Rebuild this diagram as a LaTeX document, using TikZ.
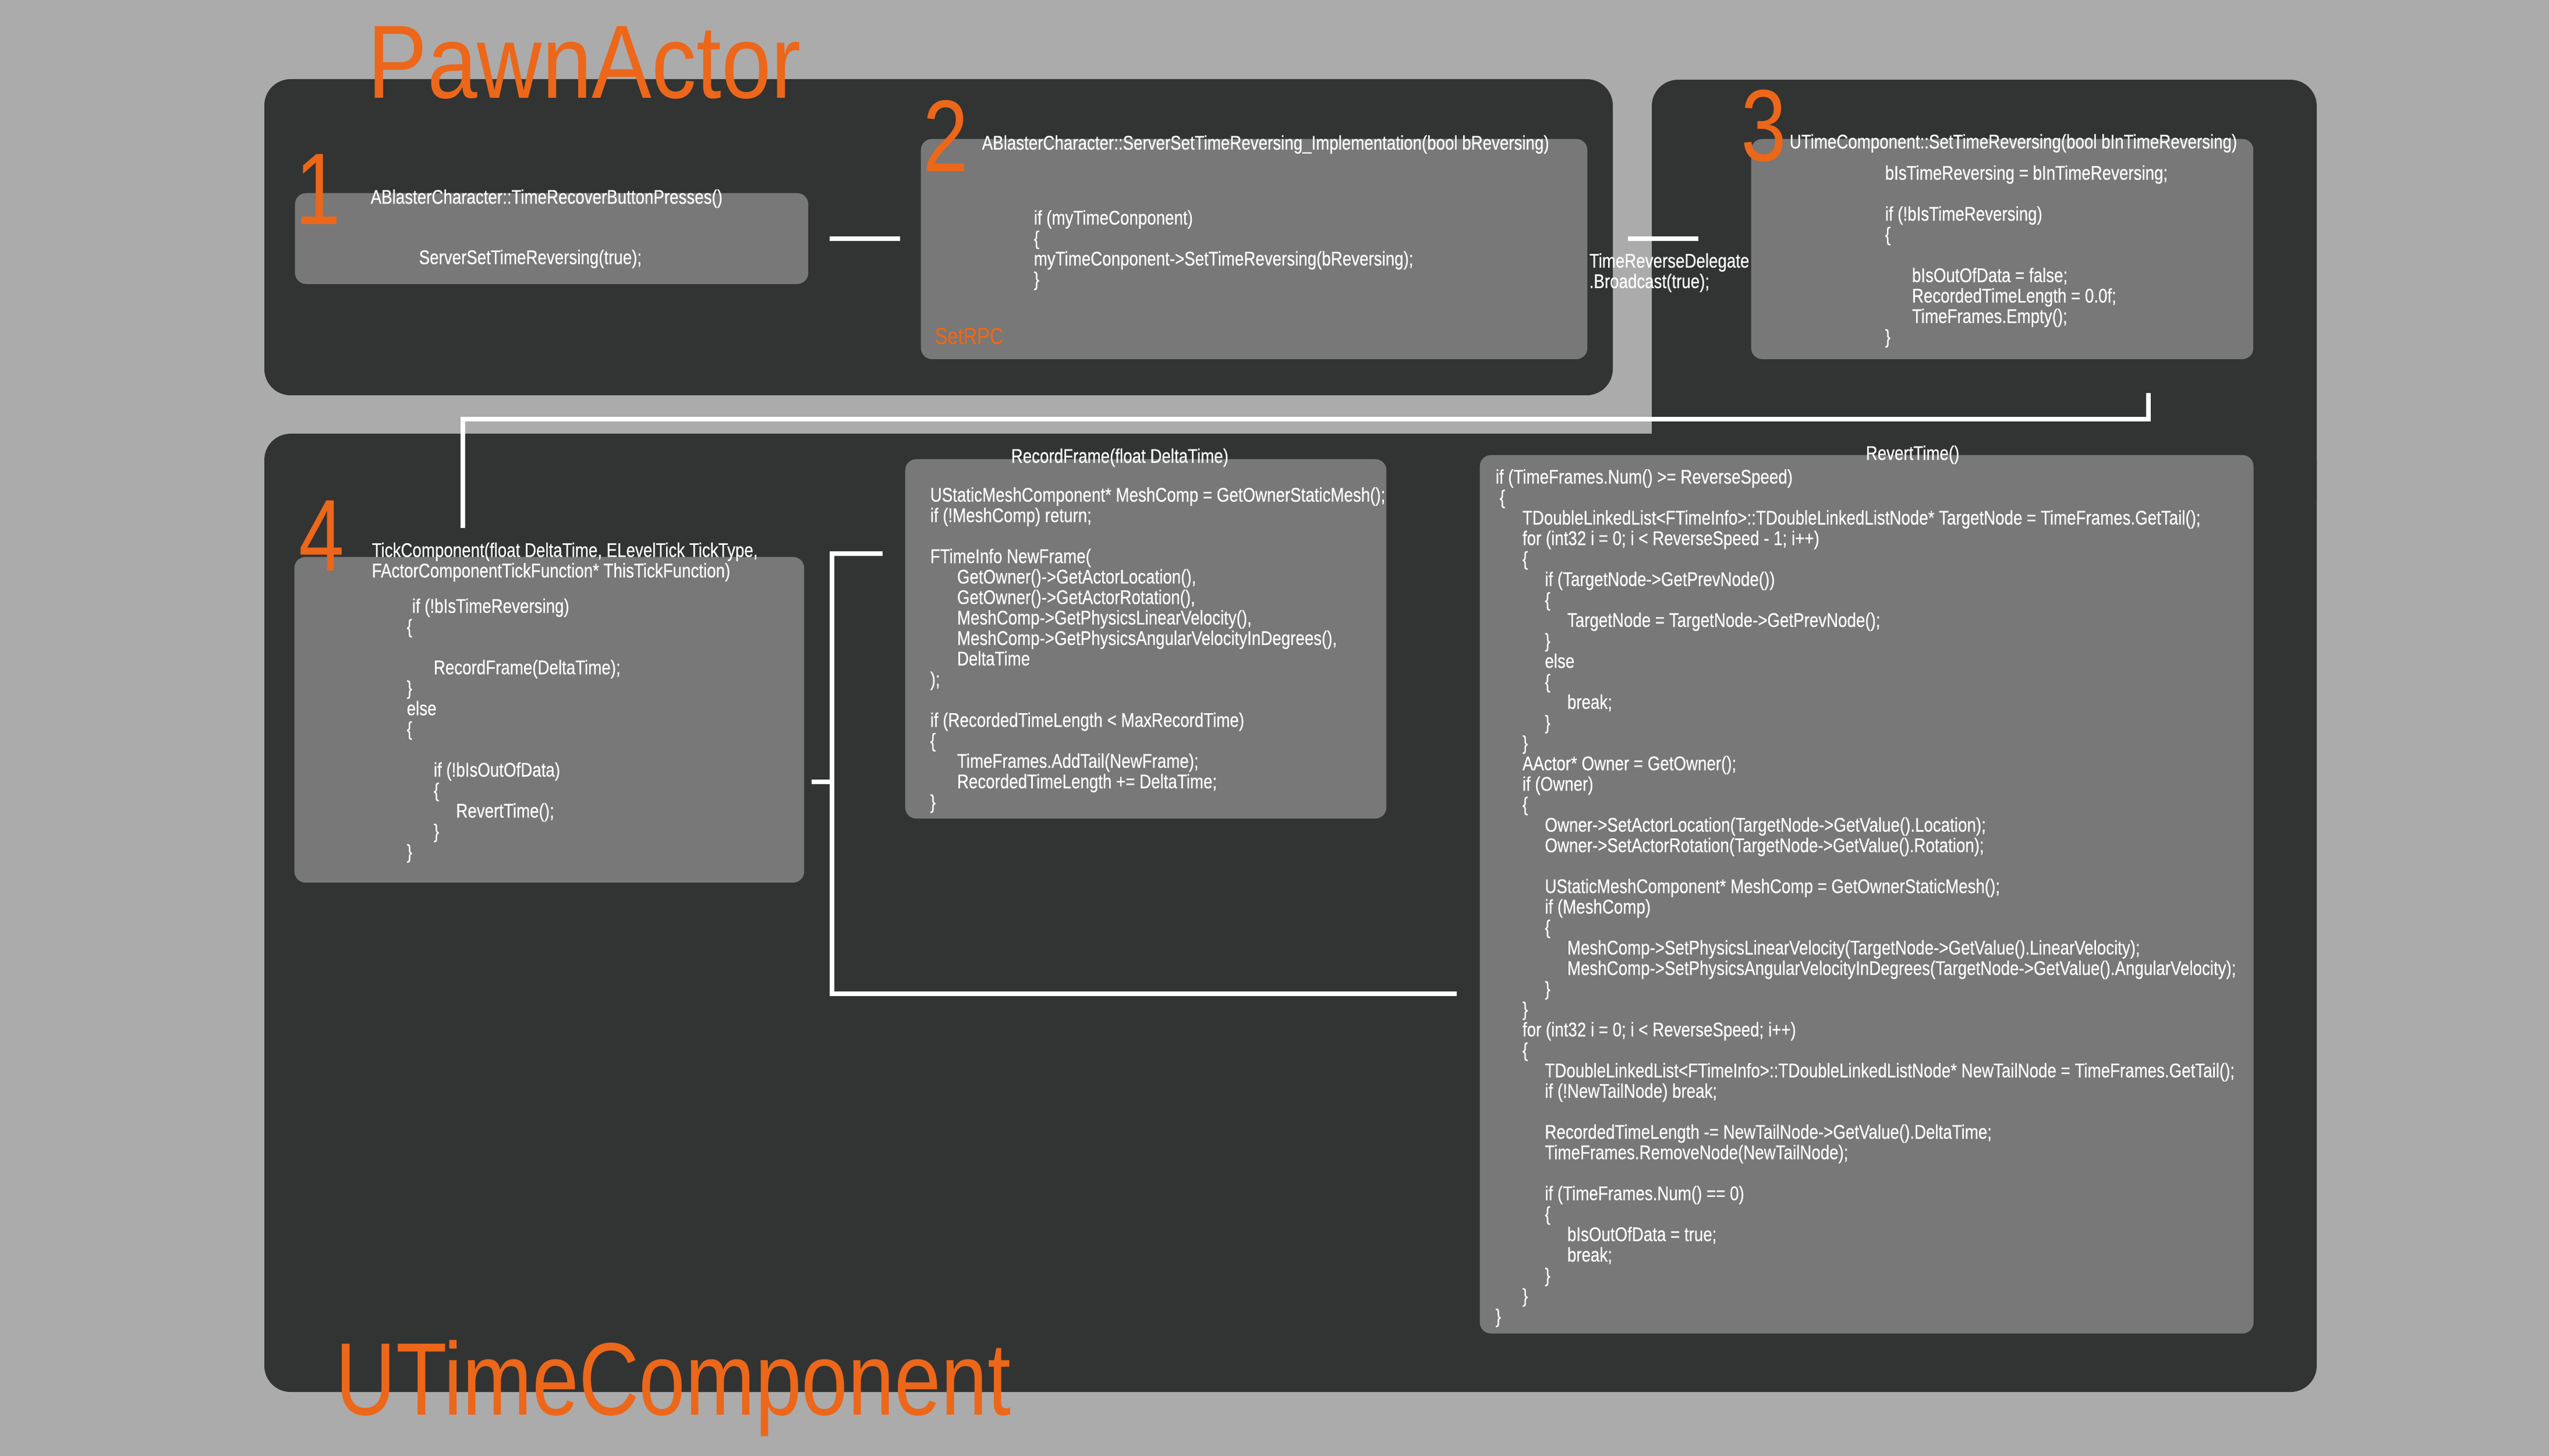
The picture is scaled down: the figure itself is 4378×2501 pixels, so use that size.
\documentclass[tikz,border=0pt]{standalone}
\usepackage{fontspec}
\setmainfont{Liberation Sans}[FakeStretch=0.815,FakeBold=0.4]
\newfontfamily\pawnfont{Liberation Sans}[FakeStretch=0.86]
\newfontfamily\utcfont{Liberation Sans}[FakeStretch=0.81]
\newfontfamily\digitfont{Liberation Sans}[FakeStretch=0.8]
\usetikzlibrary{calc}
\newdimen\PX \PX=0.01cm
\newdimen\indw \indw=38.5\PX
\newcommand\tb[1]{\hspace*{#1\indw}}
\newcommand\fl{\rule{0pt}{30\PX}}
\definecolor{bgc}{HTML}{ABABAB}
\definecolor{panelc}{HTML}{323333}
\definecolor{boxc}{HTML}{777877}
\definecolor{orng}{HTML}{EC671A}
\begin{document}
\begin{tikzpicture}[x=0.01cm,y=-0.01cm,
  txt/.style={text=white, font=\fontsize{9.67}{10}\selectfont, inner sep=0pt},
  code/.style={txt, align=left, anchor=north west},
  box/.style={fill=boxc, rounded corners=0.19cm, inner sep=0pt, anchor=north west},
  panel/.style={fill=panelc, rounded corners=0.45cm},
  digit/.style={text=orng, font=\digitfont\fontsize{49.8}{50}\selectfont, inner sep=0pt, anchor=base west},
  bigtitle/.style={text=orng, inner sep=0pt, anchor=base west},
  conn/.style={draw=white, line width=2.28pt}]
\useasboundingbox (0,0) rectangle (4378,2501);
\fill[bgc] (0,0) rectangle (4378,2501);
% panels
\fill[panel] (454,136) rectangle (2770,679);
\fill[panel] (2837,137) rectangle (3979,900);
\fill[panel] (454,745) rectangle (3979,2391);
% boxes
\node[box, minimum width=8.81cm, minimum height=1.56cm] (b1) at (506,331) {};
\node[box, minimum width=11.44cm, minimum height=3.78cm] (b2) at (1581,238) {};
\node[box, minimum width=8.62cm, minimum height=3.78cm] (b3) at (3007,238) {};
\node[box, minimum width=8.75cm, minimum height=5.59cm] (b4) at (505,956) {};
\node[box, minimum width=8.26cm, minimum height=6.17cm] (b5) at (1554,788) {};
\node[box, minimum width=13.28cm, minimum height=15.08cm] (b6) at (2541,781) {};
% titles
\node[bigtitle, font=\pawnfont\fontsize{50.9}{51}\selectfont] (pawn) at (631,169) {PawnActor};
\node[bigtitle, font=\utcfont\fontsize{50.4}{51}\selectfont] (utc) at (576,2430) {UTimeComponent};
% digits
\node[digit] (n1) at (507,386) {1};
\node[digit] (n2) at (1585,295) {2};
\node[digit] (n3) at (2990,277) {3};
\node[digit] (n4) at (513,981) {4};
% box 1
\node[txt, anchor=base west] (t1) at (636,350) {ABlasterCharacter::TimeRecoverButtonPresses()};
\node[code] (c1) at (719,423) {\fl ServerSetTimeReversing(true);};
% box 2
\node[txt, anchor=base west] (t2) at (1686,257) {ABlasterCharacter::ServerSetTimeReversing\_Implementation(bool bReversing)};
\node[code] (c2) at (1775,355) {\fl if (myTimeConponent)\\
\{\\
myTimeConponent->SetTimeReversing(bReversing);\\
\}};
\node[text=orng, font=\fontsize{11.38}{12}\selectfont, inner sep=0pt, anchor=base west] (rpc) at (1605,591) {SetRPC};
% box 3
\node[txt, anchor=base west] (t3) at (3073,255) {UTimeComponent::SetTimeReversing(bool bInTimeReversing)};
\node[code] (c3) at (3237,278) {\fl bIsTimeReversing = bInTimeReversing;\\
\\
if (!bIsTimeReversing)\\
\{\\
\\
\tb1 bIsOutOfData = false;\\
\tb1 RecordedTimeLength = 0.0f;\\
\tb1 TimeFrames.Empty();\\
\}};
% box 4
\node[code] (t4) at (638,926) {\fl TickComponent(float DeltaTime, ELevelTick TickType,\\
FActorComponentTickFunction* ThisTickFunction)};
\node[code] (c4) at (698,1022) {\fl \hspace*{9\PX}if (!bIsTimeReversing)\\
\{\\
\\
\tb1 RecordFrame(DeltaTime);\\
\}\\
else\\
\{\\
\\
\tb1 if (!bIsOutOfData)\\
\tb1 \{\\
\tb2 RevertTime();\\
\tb1 \}\\
\}};
% box 5
\node[txt, anchor=base west] (t5) at (1736,795) {RecordFrame(float DeltaTime)};
\node[code] (c5) at (1597,831) {\fl UStaticMeshComponent* MeshComp = GetOwnerStaticMesh();\\
if (!MeshComp) return;\\
\\
FTimeInfo NewFrame(\\
\tb1 GetOwner()->GetActorLocation(),\\
\tb1 GetOwner()->GetActorRotation(),\\
\tb1 MeshComp->GetPhysicsLinearVelocity(),\\
\tb1 MeshComp->GetPhysicsAngularVelocityInDegrees(),\\
\tb1 DeltaTime\\
);\\
\\
if (RecordedTimeLength < MaxRecordTime)\\
\{\\
\tb1 TimeFrames.AddTail(NewFrame);\\
\tb1 RecordedTimeLength += DeltaTime;\\
\}};
% box 6
\node[txt, anchor=base west] (t6) at (3204,790) {RevertTime()};
\node[code] (c6) at (2568,800) {\fl if (TimeFrames.Num() >= ReverseSpeed)\\
\hspace*{7\PX}\{\\
\tb1 TDoubleLinkedList<FTimeInfo>::TDoubleLinkedListNode* TargetNode = TimeFrames.GetTail();\\
\tb1 for (int32 i = 0; i < ReverseSpeed - 1; i++)\\
\tb1 \{\\
\tb2 if (TargetNode->GetPrevNode())\\
\tb2 \{\\
\tb3 TargetNode = TargetNode->GetPrevNode();\\
\tb2 \}\\
\tb2 else\\
\tb2 \{\\
\tb3 break;\\
\tb2 \}\\
\tb1 \}\\
\tb1 AActor* Owner = GetOwner();\\
\tb1 if (Owner)\\
\tb1 \{\\
\tb2 Owner->SetActorLocation(TargetNode->GetValue().Location);\\
\tb2 Owner->SetActorRotation(TargetNode->GetValue().Rotation);\\
\\
\tb2 UStaticMeshComponent* MeshComp = GetOwnerStaticMesh();\\
\tb2 if (MeshComp)\\
\tb2 \{\\
\tb3 MeshComp->SetPhysicsLinearVelocity(TargetNode->GetValue().LinearVelocity);\\
\tb3 MeshComp->SetPhysicsAngularVelocityInDegrees(TargetNode->GetValue().AngularVelocity);\\
\tb2 \}\\
\tb1 \}\\
\tb1 for (int32 i = 0; i < ReverseSpeed; i++)\\
\tb1 \{\\
\tb2 TDoubleLinkedList<FTimeInfo>::TDoubleLinkedListNode* NewTailNode = TimeFrames.GetTail();\\
\tb2 if (!NewTailNode) break;\\
\\
\tb2 RecordedTimeLength -= NewTailNode->GetValue().DeltaTime;\\
\tb2 TimeFrames.RemoveNode(NewTailNode);\\
\\
\tb2 if (TimeFrames.Num() == 0)\\
\tb2 \{\\
\tb3 bIsOutOfData = true;\\
\tb3 break;\\
\tb2 \}\\
\tb1 \}\\
\}};
% connectors
\draw[conn] ($(b1.east)+(36,0)$) -- ($(b2.west|-b1.east)+(-35,0)$);
\draw[conn] ($(b2.east|-b1.east)+(69,0)$) -- ($(b3.west|-b1.east)+(-90,0)$);
\node[code] (lbl) at (2729,429) {\fl TimeReverseDelegate\\.Broadcast(true);};
\draw[conn] ($(b3.south east)+(-181,57)$) |- ($(b4.north west)+(290,-236)$) -- ($(b4.north west)+(290,-49)$);
\draw[conn] ($(b4.east)+(12,107)$) -- ++(37,0);
\draw[conn] ($(b5.north west)+(-38,163)$) -- ++(-87,0) |- ($(b6.north west)+(-39,926)$);
\end{tikzpicture}
\end{document}
